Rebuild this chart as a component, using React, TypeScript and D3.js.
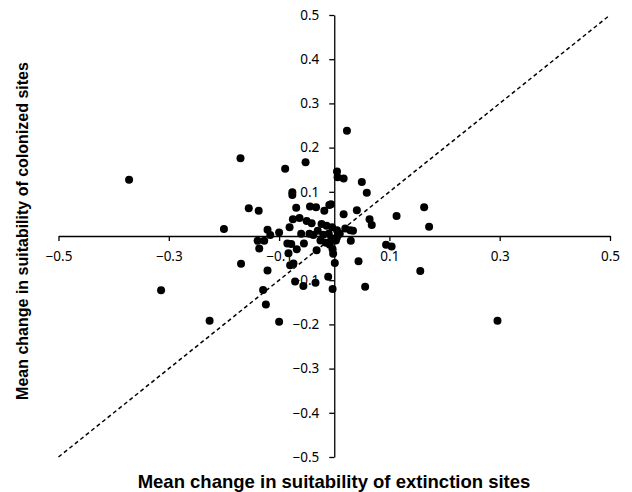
import React, { useEffect, useRef } from 'react';
import * as d3 from 'd3';

// Points: [extinction change, colonization change]
const extinctionChange = [
  -0.372, -0.170, -0.155, -0.137, -0.200, -0.121, -0.116, -0.100, -0.139, -0.127,
  -0.136, -0.169, -0.121, -0.314, -0.129, -0.124, -0.226, -0.100,
  -0.085, -0.078, -0.068, -0.083, -0.055, -0.080, -0.074, -0.071, -0.056, -0.034,
  -0.011, -0.032, -0.038,
  -0.089, -0.052, -0.076, -0.076, -0.069, -0.044, -0.033, -0.018, -0.009, -0.075,
  -0.063, -0.050, -0.041, -0.023, -0.014, -0.081, -0.006,
  -0.004, 0.005, 0.020, 0.029, 0.034, -0.010, -0.020, -0.005, 0.003, -0.008,
  -0.015, -0.003, 0.005, -0.025, 0.010, -0.030, -0.045, -0.060, -0.002,
  0.005, 0.006, 0.017, 0.023, 0.050, 0.059, 0.017, 0.041, 0.064, 0.068, 0.113,
  0.163, 0.172,
  0.030, 0.094, 0.104, 0.001, 0.044, 0.156, -0.003, 0.056, 0.296,
];
const colonizationChange = [
  0.127, 0.176, 0.063, 0.057, 0.016, 0.014, 0.002, 0.008, -0.011, -0.011,
  -0.028, -0.063, -0.078, -0.123, -0.122, -0.155, -0.192, -0.194,
  -0.017, -0.018, -0.030, -0.039, -0.017, -0.066, -0.062, -0.103, -0.113, -0.106,
  -0.092, -0.032, 0.002,
  0.152, 0.167, 0.099, 0.093, 0.064, 0.067, 0.065, 0.057, 0.070, 0.038,
  0.041, 0.034, 0.029, 0.027, 0.023, 0.020, 0.072,
  0.020, 0.013, 0.017, 0.013, 0.012, 0.005, 0.003, -0.005, -0.010, -0.020,
  -0.015, -0.030, -0.003, -0.010, 0.005, 0.012, 0.005, 0.005, -0.040,
  0.146, 0.133, 0.130, 0.238, 0.122, 0.098, 0.049, 0.058, 0.038, 0.025, 0.045,
  0.065, 0.021,
  -0.011, -0.020, -0.024, -0.061, -0.057, -0.079, -0.120, -0.115, -0.192,
];

const xTicks = [-0.5, -0.3, -0.1, 0.1, 0.3, 0.5];
const yTicks = [-0.5, -0.4, -0.3, -0.2, -0.1, 0, 0.1, 0.2, 0.3, 0.4, 0.5];

const xTitle = 'Mean change in suitability of extinction sites';
const yTitle = 'Mean change in suitability of colonized sites';

const fmt = (v: number) => (v < 0 ? '\u2212' + Math.abs(v).toFixed(1) : v.toFixed(1));

const App = () => {
  const svgRef = useRef<SVGSVGElement>(null);

  useEffect(() => {
    document.body.style.margin = '0';
    const width = 632;
    const height = 492;

    const svg = d3.select(svgRef.current);
    svg.selectAll('*').remove();
    svg.attr('width', width).attr('height', height);

    const x = d3.scaleLinear().domain([-0.5, 0.5]).range([58.5, 610]);
    const y = d3.scaleLinear().domain([-0.5, 0.5]).range([457, 15]);

    const tickFont = "'Noto Sans', sans-serif";
    const titleFont = "'Liberation Sans', Arial, sans-serif";

    // X axis through y = 0
    const xAxis = svg.append('g')
      .attr('transform', `translate(0, ${y(0)})`)
      .call(d3.axisBottom(x).tickValues(xTicks).tickSize(5).tickSizeOuter(0).tickFormat(d => fmt(+d)));
    xAxis.select('.domain').attr('stroke', '#000').attr('stroke-width', 1.3);
    xAxis.selectAll('.tick line').attr('stroke', '#000').attr('stroke-width', 1.3);
    xAxis.selectAll('.tick text')
      .attr('font-family', tickFont)
      .attr('font-size', 13.5)
      .attr('fill', '#000')
      .attr('y', 15);

    // Y axis through x = 0
    const yAxis = svg.append('g')
      .attr('transform', `translate(${x(0)}, 0)`)
      .call(d3.axisLeft(y).tickValues(yTicks).tickSize(5).tickSizeOuter(0)
        .tickFormat(d => (+d === 0 ? '' : fmt(+d))));
    yAxis.select('.domain').attr('stroke', '#000').attr('stroke-width', 1.3);
    yAxis.selectAll('.tick line').attr('stroke', '#000').attr('stroke-width', 1.3);
    yAxis.selectAll('.tick text')
      .attr('font-family', tickFont)
      .attr('font-size', 13.5)
      .attr('fill', '#000')
      .attr('x', -15);

    // 1:1 dashed line
    svg.append('line')
      .attr('x1', x(-0.5)).attr('y1', y(-0.5))
      .attr('x2', x(0.5)).attr('y2', y(0.5))
      .attr('stroke', '#000')
      .attr('stroke-width', 1.5)
      .attr('stroke-dasharray', '4,3');

    // Points
    const data = extinctionChange.map((v, i) => ({ ext: v, col: colonizationChange[i] }));
    svg.append('g')
      .selectAll('circle')
      .data(data)
      .enter()
      .append('circle')
      .attr('cx', d => x(d.ext))
      .attr('cy', d => y(d.col))
      .attr('r', 4)
      .attr('fill', '#000');

    // Titles
    svg.append('text')
      .attr('x', 334)
      .attr('y', 488)
      .attr('text-anchor', 'middle')
      .attr('font-family', titleFont)
      .attr('font-weight', 'bold')
      .attr('font-size', 18.5)
      .text(xTitle);

    svg.append('text')
      .attr('transform', `translate(28, 231) rotate(-90)`)
      .attr('text-anchor', 'middle')
      .attr('font-family', titleFont)
      .attr('font-weight', 'bold')
      .attr('font-size', 16)
      .text(yTitle);
  }, []);

  return <svg ref={svgRef}></svg>;
};

export default App;
